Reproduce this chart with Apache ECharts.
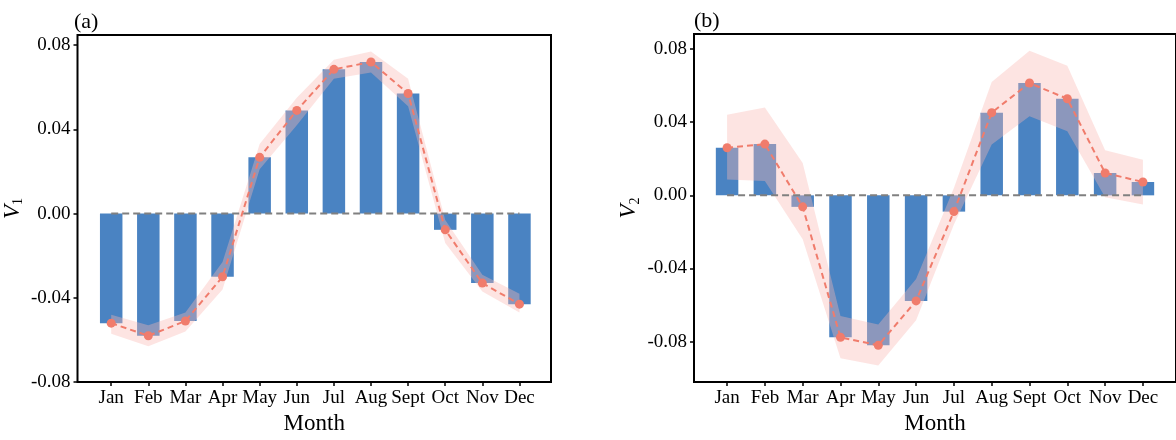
<!DOCTYPE html>
<html>
<head>
<meta charset="utf-8">
<script src="https://cdn.jsdelivr.net/npm/echarts@6/dist/echarts.min.js"></script>
<style>
html,body{margin:0;padding:0;background:#fff;}
#chart{width:1176px;height:440px;}
</style>
</head>
<body>
<div id="chart"></div>
<script>
var months = ['Jan','Feb','Mar','Apr','May','Jun','Jul','Aug','Sept','Oct','Nov','Dec'];
var monthPos = [1,2,3,4,5,6,7,8,9,10,11,12];
var yTicks = [-0.08,-0.04,0,0.04,0.08];

var v1 = [-0.052,-0.058,-0.051,-0.030,0.0267,0.049,0.0685,0.072,0.057,-0.0077,-0.033,-0.043];
var v1Upper = [-0.048,-0.053,-0.047,-0.023,0.033,0.055,0.073,0.077,0.064,-0.003,-0.029,-0.038];
var v1Lower = [-0.057,-0.063,-0.056,-0.036,0.021,0.042,0.064,0.067,0.051,-0.014,-0.037,-0.047];

var v2 = [0.026,0.028,-0.0063,-0.0776,-0.082,-0.0577,-0.0089,0.0452,0.0614,0.0528,0.0122,0.0073];
var v2Upper = [0.044,0.048,0.0177,-0.066,-0.0706,-0.0457,0.004,0.062,0.079,0.0708,0.0247,0.0195];
var v2Lower = [0.0087,0.0078,-0.024,-0.089,-0.093,-0.0683,-0.016,0.0278,0.0433,0.0351,-0.001,-0.005];

var FONT = 'Liberation Serif';
var BLUE = '#4A83C2';
var SALMON = '#F07C6C';
var BAND = 'rgba(249,185,179,0.38)';

function pairs(xs, ys){ return xs.map(function(x,i){ return [x, ys[i]]; }); }

function xAxisFor(idx, min, max){
  return {
    type:'value', gridIndex: idx, min: min, max: max,
    axisLine:{show:false, onZero:false},
    axisTick:{show:true, length:4, customValues: monthPos, lineStyle:{color:'#000', width:1.5}},
    axisLabel:{customValues: monthPos, margin:6, color:'#000', fontFamily:FONT, fontSize:19,
      formatter:function(v){ return months[Math.round(v)-1] || ''; }},
    splitLine:{show:false},
    name:'Month', nameLocation:'middle', nameGap:22,
    nameTextStyle:{fontFamily:FONT, fontSize:23, color:'#000'}
  };
}
function yAxisFor(idx, min, max, sub){
  return {
    type:'value', gridIndex: idx, min: min, max: max,
    axisLine:{show:false, onZero:false},
    axisTick:{show:true, length:4, customValues: yTicks, lineStyle:{color:'#000', width:1.5}},
    axisLabel:{customValues: yTicks, margin:7, color:'#000', fontFamily:FONT, fontSize:19,
      formatter:function(v){ return v.toFixed(2); }},
    splitLine:{show:false},
    name:'{v|V}{s|' + sub + '}', nameLocation:'middle', nameGap:52, nameRotate:90,
    nameTextStyle:{color:'#000', rich:{
      v:{fontFamily:FONT, fontStyle:'italic', fontSize:23, color:'#000', lineHeight:26},
      s:{fontFamily:FONT, fontSize:14, color:'#000', verticalAlign:'bottom', lineHeight:20}
    }}
  };
}
function bandSeries(idx, lower, upper){
  return {
    type:'custom', xAxisIndex: idx, yAxisIndex: idx, z:3, silent:true,
    data: pairs(monthPos, lower),
    renderItem:function(params, api){
      if (params.dataIndex !== 0) return null;
      var pts = [];
      for (var i=0;i<monthPos.length;i++) pts.push(api.coord([monthPos[i], upper[i]]));
      for (var j=monthPos.length-1;j>=0;j--) pts.push(api.coord([monthPos[j], lower[j]]));
      return {type:'polygon', shape:{points:pts}, style:{fill:BAND}};
    }
  };
}
function panelSeries(idx, vals, lower, upper){
  return [
    {type:'bar', xAxisIndex:idx, yAxisIndex:idx, data: pairs(monthPos, vals), barWidth:22.5,
      itemStyle:{color:BLUE}, z:2, silent:true},
    bandSeries(idx, lower, upper),
    {type:'line', xAxisIndex:idx, yAxisIndex:idx, data: [[monthPos[0],0],[monthPos[11],0]],
      symbol:'none', lineStyle:{color:'#808080', width:2, type:[7,4]}, z:4, silent:true},
    {type:'line', xAxisIndex:idx, yAxisIndex:idx, data: pairs(monthPos, vals),
      symbol:'circle', symbolSize:9, itemStyle:{color:SALMON},
      lineStyle:{color:SALMON, width:2, type:[6,4]}, z:5, silent:true}
  ];
}

var chart = echarts.init(document.getElementById('chart'), null, {renderer:'canvas'});
chart.setOption({
  animation:false,
  backgroundColor:'#fff',
  grid:[
    {left:74, top:35, width:477, height:357.5, show:true, borderColor:'#000', borderWidth:2, backgroundColor:'transparent'},
    {left:694, top:34, width:487, height:365, show:true, borderColor:'#000', borderWidth:2, backgroundColor:'transparent'}
  ],
  xAxis:[ xAxisFor(0, 0.092, 12.85), xAxisFor(1, 0.125, 12.875) ],
  yAxis:[ yAxisFor(0, -0.08, 0.0848, '1'), yAxisFor(1, -0.1021, 0.0882, '2') ],
  graphic:[
    {type:'text', left:74, top:11, style:{text:'(a)', font:'22px "Liberation Serif"', fill:'#000'}},
    {type:'text', left:694, top:10, style:{text:'(b)', font:'22px "Liberation Serif"', fill:'#000'}}
  ],
  series: panelSeries(0, v1, v1Lower, v1Upper).concat(panelSeries(1, v2, v2Lower, v2Upper))
});
</script>
</body>
</html>
